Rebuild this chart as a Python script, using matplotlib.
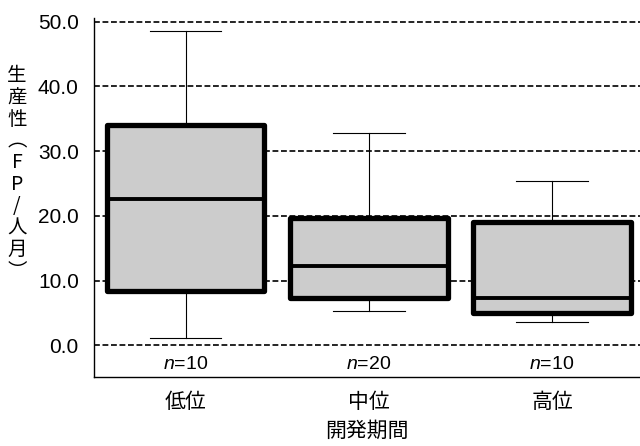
import matplotlib
matplotlib.use("Agg")
import matplotlib.pyplot as plt

plt.rcParams["font.family"] = ["Liberation Sans", "Noto Sans CJK JP", "DejaVu Sans"]
plt.rcParams["mathtext.fontset"] = "custom"
plt.rcParams["mathtext.it"] = "Liberation Sans:italic"
plt.rcParams["mathtext.rm"] = "Liberation Sans"

# 開発期間ごとの生産性（箱ひげ図の統計量）
categories = ["低位", "中位", "高位"]
counts = [10, 20, 10]
whisker_low = [1.2, 5.4, 3.7]
q1 = [8.4, 7.4, 5.0]
medians = [22.6, 12.25, 7.4]
q3 = [34.1, 19.7, 19.1]
whisker_high = [48.5, 32.8, 25.4]

yticks = [0, 10, 20, 30, 40, 50]
ylabel_chars = ["生", "産", "性", "︵", "F", "P", "/", "人", "月", "︶"]

stats = []
for i, name in enumerate(categories):
    stats.append({
        "label": name,
        "whislo": whisker_low[i],
        "q1": q1[i],
        "med": medians[i],
        "q3": q3[i],
        "whishi": whisker_high[i],
        "fliers": [],
    })

fig = plt.figure(figsize=(6.4, 4.46), dpi=100)
ax = fig.add_axes([0.147, 0.155, 0.853, 0.805])

ax.set_axisbelow(True)
ax.yaxis.grid(True, linestyle=(0, (3.5, 1.6)), color="black", linewidth=1.2)

positions = list(range(1, len(categories) + 1))
ax.bxp(
    stats,
    positions=positions,
    widths=0.86,
    patch_artist=True,
    showfliers=False,
    boxprops=dict(facecolor="#cccccc", edgecolor="black", linewidth=3.8, joinstyle="round"),
    medianprops=dict(color="black", linewidth=2.8),
    whiskerprops=dict(color="black", linewidth=0.8),
    capprops=dict(color="black", linewidth=0.8),
    capwidths=0.39,
)

for pos, n in zip(positions, counts):
    ax.text(pos, -3.0, f"$\\mathit{{n}}$={n}", ha="center", va="center", fontsize=14)

ax.set_xlim(0.5, 3.48)
ax.set_ylim(-4.85, 50.6)
ax.set_yticks(yticks)
ax.set_yticklabels([f"{v:.1f}" for v in yticks], fontsize=15)
ax.set_xticks(positions)
ax.set_xticklabels(categories, fontsize=15, family=["Noto Sans CJK JP"])
ax.tick_params(axis="both", length=0)
ax.tick_params(axis="y", pad=11)
ax.tick_params(axis="x", pad=10)

ax.spines["top"].set_visible(False)
ax.spines["right"].set_visible(False)
ax.spines["left"].set_linewidth(1.0)
ax.spines["bottom"].set_linewidth(1.0)

ax.set_xlabel("開発期間", fontsize=15, family=["Noto Sans CJK JP"], labelpad=5)

# 縦書きの軸ラベル
top_px = 76
step_px = 21.7
for k, ch in enumerate(ylabel_chars):
    fig.text(17 / 640, 1 - (top_px + k * step_px) / 446, ch, ha="center", va="center",
             fontsize=14, family=["Noto Sans CJK JP", "DejaVu Sans"])

fig.savefig("out.png", dpi=100)
